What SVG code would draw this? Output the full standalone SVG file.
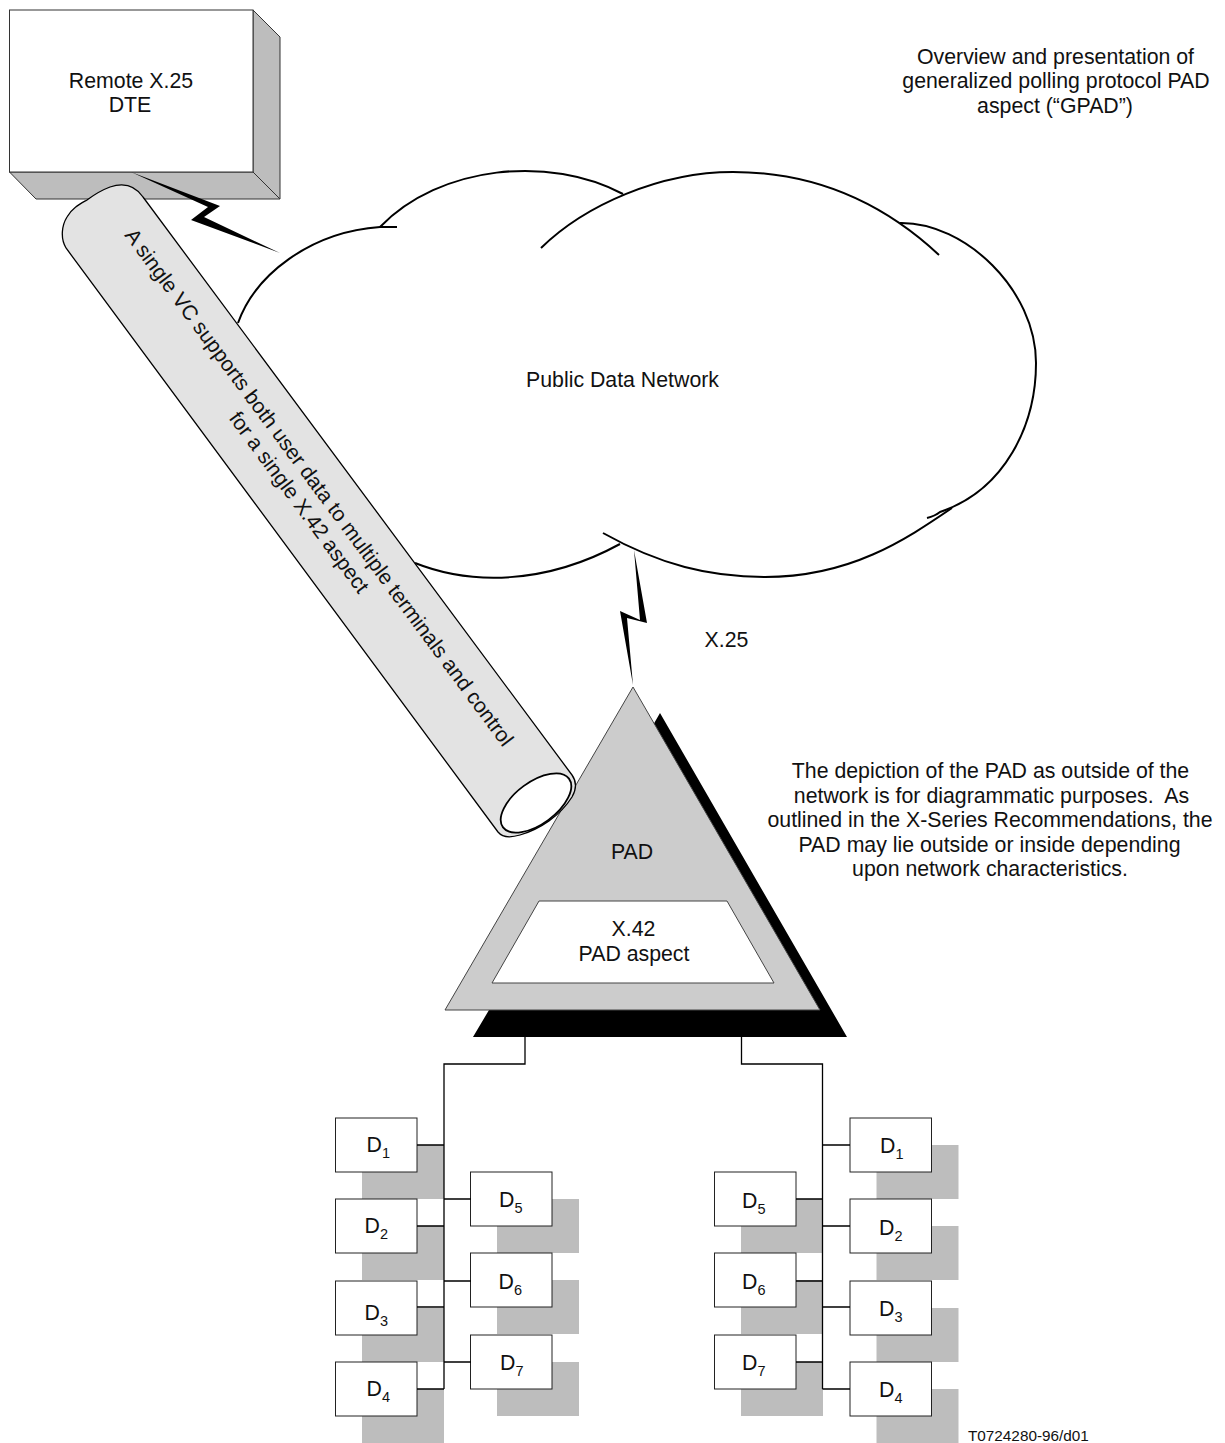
<svg xmlns="http://www.w3.org/2000/svg" width="1225" height="1443" viewBox="0 0 1225 1443">
<style>
text{font-family:"Liberation Sans",Arial,sans-serif;font-size:21.3px;fill:#111;text-anchor:middle;white-space:pre}
.d{text-anchor:start}
.sub{font-size:14.500px}
.small{font-size:15.300px;text-anchor:start}
.tt{font-size:21px}
.cloud{fill:none;stroke:#000;stroke-width:2}
.wire{fill:none;stroke:#000;stroke-width:1.300}
.box{fill:#fff;stroke:#222;stroke-width:1}
.shadow{fill:#bdbdbd}
.face{fill:#bdbdbd;stroke:#333;stroke-width:1}
</style>
<defs>
<g id="dev"><rect class="shadow" x="26.500" y="27" width="82" height="54"/><rect class="box" width="81.500" height="54"/></g>
</defs>
<g id="dte">
<path class="face" d="M253,10L280,37V199L253,172Z"/>
<path class="face" d="M9.500,172L36,199H280L253,172Z"/>
<rect x="9.500" y="10" width="243.500" height="162" fill="#fff" stroke="#333"/>
<text x="131" y="88">Remote X.25</text><text x="130" y="112">DTE</text>
</g>
<g id="cloud">
<path class="cloud" d="M238,323C255,275 310,232 380,227L397,227"/>
<path class="cloud" d="M380,227C440,165 550,155 623,194"/>
<path class="cloud" d="M541,248C585,205 660,172 733,172C810,172 880,200 939,255"/>
<path class="cloud" d="M900,223C965,222 1036,290 1036,363C1036,425 1005,490 940,512Q935,516 927,518"/>
<path class="cloud" d="M952,508C905,540 850,577 765,577C710,577 660,565 603,533"/>
<path class="cloud" d="M415,563C470,585 545,585 620,544"/>
<text x="622.500" y="387">Public Data Network</text>
</g>
<g id="links">
<path d="M131,172L220,206L204,217L280,253L191,220L208,207Z" fill="#000"/>
<path d="M634,550L647,623L627,618L633,685L620,611L640,620Z" fill="#000"/>
</g>
<g id="pad">
<path d="M660,713L847,1037H473L489,1010Z" fill="#000"/>
<path d="M633,687L820,1010H445Z" fill="#ccc" stroke="#444" stroke-width="1"/>
<path d="M539,901H727L774,983H492Z" fill="#fff" stroke="#444" stroke-width="1"/>
<text x="632" y="859">PAD</text>
<text x="633.500" y="936">X.42</text><text x="634" y="961">PAD aspect</text>
</g>
<g id="tube">
<path d="M143,197L572,775C577,782 576,790 572,797C560,816 540,829 520,835C510,838 502,837 498,832L66,248C60,238 62,225 67,217C72,208 80,204 87,200C95,194 102,190 110,187C122,183 134,184 143,197Z" fill="#e3e3e3" stroke="#000" stroke-width="1.300"/>
<ellipse cx="536" cy="803" rx="41" ry="21" transform="rotate(-36.500 536 803)" fill="#fff" stroke="#000" stroke-width="1.800"/>
<g transform="translate(313.500,491.500) rotate(53.500)">
<text class="tt" x="0" y="0">A single VC supports both user data to multiple terminals and control</text>
<text class="tt" x="0" y="25">for a single X.42 aspect</text>
</g>
</g>
<g id="left-devices">
<g id="l1"><use href="#dev" x="335.500" y="1118"/><text class="d" x="366.500" y="1152">D<tspan class="sub" dy="6">1</tspan></text></g>
<g id="l2"><use href="#dev" x="335.500" y="1199"/><text class="d" x="364.500" y="1233">D<tspan class="sub" dy="6">2</tspan></text></g>
<g id="l3"><use href="#dev" x="335.500" y="1281"/><text class="d" x="364.500" y="1320">D<tspan class="sub" dy="6">3</tspan></text></g>
<g id="l4"><use href="#dev" x="335.500" y="1362"/><text class="d" x="366.500" y="1396">D<tspan class="sub" dy="6">4</tspan></text></g>
<g id="l5"><use href="#dev" x="470.500" y="1172"/><text class="d" x="499" y="1207">D<tspan class="sub" dy="6">5</tspan></text></g>
<g id="l6"><use href="#dev" x="470.500" y="1253"/><text class="d" x="498.500" y="1289">D<tspan class="sub" dy="6">6</tspan></text></g>
<g id="l7"><use href="#dev" x="470.500" y="1335"/><text class="d" x="500" y="1370">D<tspan class="sub" dy="6">7</tspan></text></g>
</g>
<g id="right-devices">
<g id="r1"><use href="#dev" x="850" y="1118"/><text class="d" x="880" y="1153">D<tspan class="sub" dy="6">1</tspan></text></g>
<g id="r2"><use href="#dev" x="850" y="1199"/><text class="d" x="879" y="1235">D<tspan class="sub" dy="6">2</tspan></text></g>
<g id="r3"><use href="#dev" x="850" y="1281"/><text class="d" x="879" y="1316">D<tspan class="sub" dy="6">3</tspan></text></g>
<g id="r4"><use href="#dev" x="850" y="1362"/><text class="d" x="879" y="1397">D<tspan class="sub" dy="6">4</tspan></text></g>
<g id="r5"><use href="#dev" x="714.500" y="1172"/><text class="d" x="742" y="1208">D<tspan class="sub" dy="6">5</tspan></text></g>
<g id="r6"><use href="#dev" x="714.500" y="1253"/><text class="d" x="742" y="1289">D<tspan class="sub" dy="6">6</tspan></text></g>
<g id="r7"><use href="#dev" x="714.500" y="1335"/><text class="d" x="742" y="1370">D<tspan class="sub" dy="6">7</tspan></text></g>
</g>
<g id="connectors">
<path class="wire" d="M525,1037V1064H444V1389M417,1145H444M417,1226H444M417,1307H444M417,1389H444M444,1199H471M444,1281H471M444,1362H471"/>
<path class="wire" d="M741.500,1037V1064H822.500V1389M796,1199H822.500M796,1281H822.500M796,1362H822.500M822.500,1145H850M822.500,1226H850M822.500,1307H850M822.500,1389H850"/>
</g>
<g id="labels">
<text x="1055.500" y="63.500">Overview and presentation of</text>
<text x="1056" y="88">generalized polling protocol PAD</text>
<text x="1055" y="112.500">aspect (“GPAD”)</text>
<text x="726.500" y="647">X.25</text>
<text x="990.500" y="778">The depiction of the PAD as outside of the</text>
<text x="991.500" y="803">network is for diagrammatic purposes.  As</text>
<text x="990" y="827">outlined in the X-Series Recommendations, the</text>
<text x="989.500" y="852">PAD may lie outside or inside depending</text>
<text x="990" y="876">upon network characteristics.</text>
<text class="small" x="968" y="1440.500">T0724280-96/d01</text>
</g>
</svg>
